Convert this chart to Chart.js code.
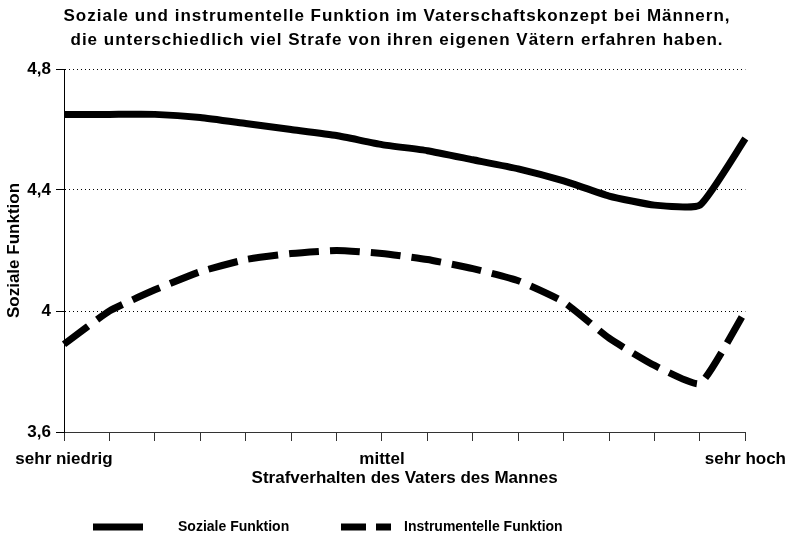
<!DOCTYPE html>
<html>
<head>
<meta charset="utf-8">
<script src="https://cdn.jsdelivr.net/npm/chart.js@4"></script>
<style>
  body { margin: 0; background: #fff; }
  .chart-box { width: 794px; height: 539px; }
</style>
</head>
<body>
<div class="chart-box"><canvas id="fatherChart"></canvas></div>
<script>
// Data
const categories = ["sehr niedrig", "", "", "", "", "", "", "mittel", "", "", "", "", "", "", "", "sehr hoch"];
const sozialeValues = [4.65, 4.65, 4.65, 4.64, 4.62, 4.60, 4.58, 4.55, 4.53, 4.50, 4.47, 4.43, 4.38, 4.35, 4.35, 4.57];
const instrumentelleValues = [3.89, 4.00, 4.07, 4.13, 4.17, 4.19, 4.20, 4.19, 4.17, 4.14, 4.10, 4.03, 3.91, 3.82, 3.76, 4.00];
const yTicks = [3.6, 4, 4.4, 4.8];
const seriesNames = ["Soziale Funktion", "Instrumentelle Funktion"];
const titleLines = [
    "Soziale und instrumentelle Funktion im Vaterschaftskonzept bei Männern,",
    "die unterschiedlich viel Strafe von ihren eigenen Vätern erfahren haben."
];
const xTitle = "Strafverhalten des Vaters des Mannes";
const yTitle = "Soziale Funktion";

const FONT = '"Liberation Sans", Arial, sans-serif';

// Title is drawn by hand so it can get the wider letter spacing of the original
const titleBlock = {
    id: "titleBlock",
    afterDraw(chart) {
        const ctx = chart.ctx;
        ctx.save();
        ctx.font = "bold 17px " + FONT;
        ctx.letterSpacing = "1px";
        ctx.fillStyle = "#000";
        ctx.textAlign = "center";
        ctx.textBaseline = "middle";
        titleLines.forEach((line, i) => {
            ctx.fillText(line, chart.width / 2, 16 + i * 24);
        });
        ctx.restore();
    }
};

// Legend drawn under the chart, line sample + label for each dataset
const bottomLegend = {
    id: "bottomLegend",
    afterDraw(chart) {
        const ctx = chart.ctx;
        const y = 527;
        const items = [
            { x: 93, textX: 178 },
            { x: 341, textX: 404 }
        ];
        ctx.save();
        chart.data.datasets.forEach((ds, i) => {
            ctx.strokeStyle = ds.borderColor;
            ctx.lineWidth = ds.borderWidth;
            ctx.setLineDash(ds.borderDash ? [25, 10] : []);
            ctx.beginPath();
            ctx.moveTo(items[i].x, y);
            ctx.lineTo(items[i].x + 50, y);
            ctx.stroke();
            ctx.setLineDash([]);
            ctx.fillStyle = "#000";
            ctx.font = "bold 14px " + FONT;
            ctx.textBaseline = "middle";
            ctx.fillText(ds.label, items[i].textX, y);
        });
        ctx.restore();
    }
};

const ctx = document.getElementById("fatherChart").getContext("2d");
const chart = new Chart(ctx, {
    type: "line",
    data: {
        labels: categories,
        datasets: [
            {
                label: seriesNames[0],
                data: sozialeValues,
                borderColor: "#000",
                borderWidth: 7,
                pointRadius: 0,
                tension: 0.15,
                fill: false
            },
            {
                label: seriesNames[1],
                data: instrumentelleValues,
                borderColor: "#000",
                borderWidth: 7,
                borderDash: [30, 11],
                pointRadius: 0,
                tension: 0.15,
                fill: false
            }
        ]
    },
    options: {
        responsive: true,
        maintainAspectRatio: false,
        animation: false,
        layout: { padding: { left: 0, right: 45, top: 69, bottom: 0 } },
        plugins: {
            legend: { display: false },
            tooltip: { enabled: false },
            title: { display: false }
        },
        scales: {
            x: {
                offset: false,
                afterFit(scale) { scale.height = 107; },
                border: { color: "#333", width: 1 },
                grid: {
                    offset: false,
                    drawOnChartArea: false,
                    tickLength: 9,
                    color: "#333"
                },
                ticks: {
                    autoSkip: false,
                    maxRotation: 0,
                    padding: 8,
                    color: "#000",
                    font: { family: FONT, size: 17, weight: "bold" }
                },
                title: {
                    display: true,
                    text: xTitle,
                    color: "#000",
                    font: { family: FONT, size: 17, weight: "bold" },
                    padding: { top: 0, bottom: 50 }
                }
            },
            y: {
                min: 3.6,
                max: 4.8,
                afterFit(scale) { scale.width = 64; },
                afterBuildTicks(scale) { scale.ticks = yTicks.map(v => ({ value: v })); },
                border: { color: "#000", width: 1, dash: [1, 3] },
                grid: {
                    tickLength: 8,
                    color: c => (c.tick && c.tick.value > 3.6 ? "#000" : "rgba(0,0,0,0)"),
                    tickColor: "#000",
                    lineWidth: 1
                },
                ticks: {
                    padding: 5,
                    color: "#000",
                    font: { family: FONT, size: 17, weight: "bold" },
                    callback: v => Number(v.toFixed(1)).toString().replace(".", ",")
                },
                title: {
                    display: true,
                    text: yTitle,
                    color: "#000",
                    font: { family: FONT, size: 17, weight: "bold" },
                    padding: { top: 4, bottom: 0 }
                }
            }
        }
    },
    plugins: [titleBlock, bottomLegend]
});
</script>
</body>
</html>
